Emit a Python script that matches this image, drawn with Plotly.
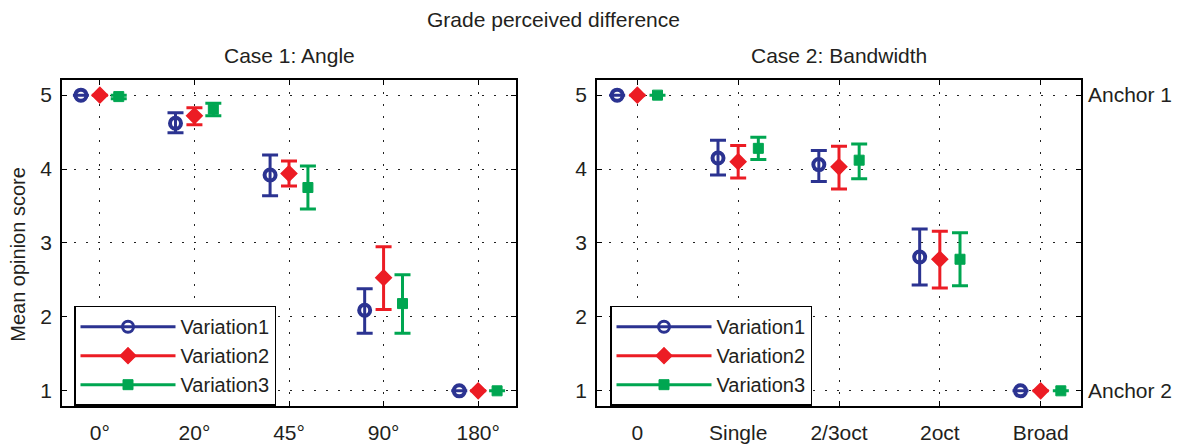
import plotly.graph_objects as go
import numpy as np

# ---------------- data ----------------
angle_labels = ["0°", "20°", "45°", "90°", "180°"]
band_labels = ["0", "Single", "2/3oct", "2oct", "Broad"]
series_names = ["Variation1", "Variation2", "Variation3"]

# Case 1: Angle  (mean, upper, lower)
angle_v1_mean = [5.00, 4.62, 3.92, 2.09, 1.00]
angle_v1_hi = [5.00, 4.76, 4.19, 2.38, 1.00]
angle_v1_lo = [5.00, 4.49, 3.64, 1.78, 1.00]

angle_v2_mean = [5.00, 4.72, 3.94, 2.53, 1.00]
angle_v2_hi = [5.00, 4.83, 4.11, 2.95, 1.00]
angle_v2_lo = [5.00, 4.60, 3.77, 2.10, 1.00]

angle_v3_mean = [4.98, 4.81, 3.75, 2.18, 1.00]
angle_v3_hi = [5.00, 4.89, 4.04, 2.57, 1.00]
angle_v3_lo = [4.95, 4.72, 3.46, 1.78, 1.00]

# Case 2: Bandwidth
band_v1_mean = [5.00, 4.15, 4.06, 2.81, 1.00]
band_v1_hi = [5.00, 4.39, 4.25, 3.19, 1.00]
band_v1_lo = [5.00, 3.92, 3.83, 2.43, 1.00]

band_v2_mean = [5.00, 4.10, 4.03, 2.78, 1.00]
band_v2_hi = [5.00, 4.32, 4.31, 3.16, 1.00]
band_v2_lo = [5.00, 3.88, 3.73, 2.39, 1.00]

band_v3_mean = [5.00, 4.28, 4.12, 2.78, 1.00]
band_v3_hi = [5.00, 4.43, 4.34, 3.14, 1.00]
band_v3_lo = [5.00, 4.13, 3.87, 2.42, 1.00]

y_ticks = [1, 2, 3, 4, 5]
anchor_vals = [5, 1]
anchor_text = ["Anchor 1", "Anchor 2"]

# ---------------- style ----------------
FONT = "Liberation Sans, Arial, Helvetica, sans-serif"
TXT = "#231F20"
FS = 21
colors = ["#2B3391", "#EC1C24", "#00A651"]
symbols = ["circle-open", "diamond", "square"]
sizes = [11, 12, 10]
line_w = [4, 1.5, 1]
offsets = [-0.2, 0.0, 0.2]

W, H = 1180, 444
def px_x(p):
    return p / W
def px_y(p):
    return 1 - p / H

fig = go.Figure()

cases = [
    ("x", "y", [(angle_v1_mean, angle_v1_hi, angle_v1_lo),
                (angle_v2_mean, angle_v2_hi, angle_v2_lo),
                (angle_v3_mean, angle_v3_hi, angle_v3_lo)], "legend"),
    ("x2", "y2", [(band_v1_mean, band_v1_hi, band_v1_lo),
                  (band_v2_mean, band_v2_hi, band_v2_lo),
                  (band_v3_mean, band_v3_hi, band_v3_lo)], "legend2"),
]

base_x = np.arange(1, 6)
for xa, ya, series, leg in cases:
    for i, (m, hi, lo) in enumerate(series):
        m = np.array(m); hi = np.array(hi); lo = np.array(lo)
        mline = dict(color=colors[i], width=line_w[i])
        fig.add_trace(go.Scatter(
            x=base_x + offsets[i], y=m, mode="markers",
            xaxis=xa, yaxis=ya, showlegend=False,
            marker=dict(symbol=symbols[i], size=sizes[i], color=colors[i], line=mline),
            error_y=dict(type="data", symmetric=False, array=hi - m, arrayminus=m - lo,
                         color=colors[i], thickness=3, width=8),
        ))
        # legend entry
        fig.add_trace(go.Scatter(
            x=[None], y=[None], mode="lines+markers", name=series_names[i],
            xaxis=xa, yaxis=ya, legend=leg, showlegend=True,
            line=dict(color=colors[i], width=3),
            marker=dict(symbol=symbols[i], size=sizes[i], color=colors[i],
                        line=dict(color=colors[i], width=min(line_w[i], 3))),
        ))

# carrier trace so the right-hand anchor axis is drawn
fig.add_trace(go.Scatter(x=[None], y=[None], xaxis="x2", yaxis="y3",
                         showlegend=False, hoverinfo="skip"))

axis_common = dict(
    showline=True, linecolor="black", linewidth=1.5, mirror="ticks",
    ticks="inside", ticklen=5, tickwidth=1, tickcolor="black",
    showgrid=True, gridcolor="#222222", gridwidth=1, griddash="2px,10px",
    zeroline=False, tickfont=dict(family=FONT, size=FS, color=TXT),
)

y_dom = [px_y(414), px_y(82)]
legend_common = dict(xanchor="left", yanchor="top",
                     bordercolor="black", borderwidth=1.5, bgcolor="white",
                     font=dict(family=FONT, size=20, color=TXT), itemwidth=95,
                     tracegroupgap=0)

def label(text, x, y, size=FS, angle=0):
    return dict(text=text, x=px_x(x), y=px_y(y), xref="paper", yref="paper",
                xanchor="center", yanchor="middle", showarrow=False,
                textangle=angle, font=dict(family=FONT, size=size, color=TXT))

fig.update_layout(
    width=W, height=H, autosize=False,
    margin=dict(l=0, r=0, t=0, b=0),
    paper_bgcolor="white", plot_bgcolor="white",
    font=dict(family=FONT, color=TXT),
    xaxis=dict(domain=[px_x(62), px_x(516)], range=[0.6, 5.4], anchor="y",
               tickvals=list(base_x), ticktext=angle_labels,
               ticklabelstandoff=7, **axis_common),
    yaxis=dict(domain=y_dom, range=[0.8, 5.2], anchor="x",
               tickvals=y_ticks, ticklabelstandoff=4, **axis_common),
    xaxis2=dict(domain=[px_x(597), px_x(1081)], range=[0.6, 5.4], anchor="y2",
                tickvals=list(base_x), ticktext=band_labels,
                ticklabelstandoff=7, **axis_common),
    yaxis2=dict(domain=y_dom, range=[0.8, 5.2], anchor="x2",
                tickvals=y_ticks, ticklabelstandoff=4, **axis_common),
    yaxis3=dict(overlaying="y2", anchor="x2", side="right", range=[0.8, 5.2],
                tickvals=anchor_vals, ticktext=anchor_text, showgrid=False,
                showline=False, zeroline=False, ticks="",
                tickfont=dict(family=FONT, size=FS, color=TXT), ticklabelstandoff=6),
    legend=dict(x=px_x(74), y=px_y(312), **legend_common),
    legend2=dict(x=px_x(610), y=px_y(312), **legend_common),
    annotations=[
        label("Grade perceived difference", 553, 20),
        label("Case 1: Angle", 289, 57),
        label("Case 2: Bandwidth", 839, 57),
        label("Mean opinion score", 18, 260, size=20, angle=-90),
    ],
)

fig.write_html("out.html")
